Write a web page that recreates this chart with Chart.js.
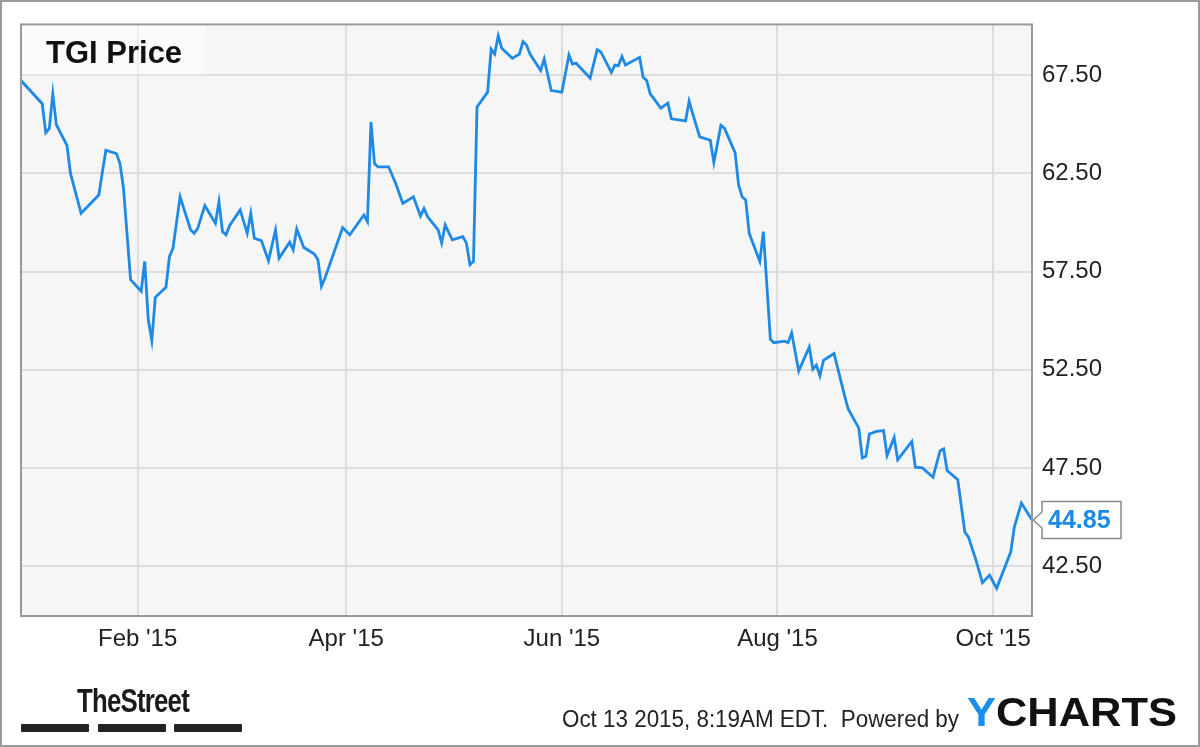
<!DOCTYPE html>
<html>
<head>
<meta charset="utf-8">
<script src="https://cdn.jsdelivr.net/npm/chart.js@4.4.1/dist/chart.umd.min.js"></script>
<style>
  html, body { margin: 0; padding: 0; background: #fff; }
  #wrap { position: relative; width: 1200px; height: 747px; overflow: hidden; background: #fff; }
  #c { position: absolute; left: 0; top: 0; }
  .ft { position: absolute; white-space: nowrap; line-height: 1; font-family: "Liberation Sans", Arial, Helvetica, sans-serif; transform-origin: 0 0; }
  .bar { position: absolute; top: 724px; height: 8px; width: 68px; background: #222; border-radius: 1px; }
  #frame { position: absolute; left: 0; top: 0; width: 1200px; height: 747px; box-sizing: border-box; border: 2px solid #9a9a9a; pointer-events: none; }
</style>
</head>
<body>
<div id="wrap">
  <canvas id="c" width="1200" height="747"></canvas>
  <div class="ft" id="street" style="left:77px; top:683px; font-size:34px; font-weight:bold; color:#1a1a1a; letter-spacing:-1px;">TheStreet</div>
  <div class="bar" style="left:21px"></div>
  <div class="bar" style="left:98px"></div>
  <div class="bar" style="left:174px"></div>
  <div class="ft" id="stamp" style="left:562px; top:708px; font-size:23px; color:#222;">Oct 13 2015, 8:19AM EDT.&nbsp; Powered by</div>
  <div class="ft" id="ych" style="left:967px; top:692px; font-size:40px; font-weight:bold; color:#111; letter-spacing:0px;"><span style="color:#1a8ee8">Y</span>CHARTS</div>
  <div id="frame"></div>
</div>
<script>
// ---- data ----
const dates = [
  "2014-12-30","2015-01-05","2015-01-06","2015-01-07","2015-01-08","2015-01-09","2015-01-12","2015-01-13","2015-01-16","2015-01-21",
  "2015-01-23","2015-01-26","2015-01-27","2015-01-28","2015-01-30","2015-02-02","2015-02-03","2015-02-04","2015-02-05","2015-02-06",
  "2015-02-09","2015-02-10","2015-02-11","2015-02-13","2015-02-16","2015-02-17","2015-02-18","2015-02-20","2015-02-23","2015-02-24",
  "2015-02-25","2015-02-26","2015-02-27","2015-03-02","2015-03-04","2015-03-05","2015-03-06","2015-03-08","2015-03-10","2015-03-12",
  "2015-03-13","2015-03-16","2015-03-17","2015-03-18","2015-03-20","2015-03-23","2015-03-24","2015-03-25","2015-03-26","2015-03-31",
  "2015-04-02","2015-04-06","2015-04-07","2015-04-08","2015-04-09","2015-04-10","2015-04-13","2015-04-15","2015-04-17","2015-04-20",
  "2015-04-22","2015-04-23","2015-04-24","2015-04-27","2015-04-28","2015-04-29","2015-05-01","2015-05-04","2015-05-05","2015-05-06",
  "2015-05-07","2015-05-08","2015-05-11","2015-05-12","2015-05-13","2015-05-14","2015-05-15","2015-05-18","2015-05-20","2015-05-21",
  "2015-05-22","2015-05-23","2015-05-26","2015-05-27","2015-05-29","2015-06-01","2015-06-03","2015-06-04","2015-06-05","2015-06-09",
  "2015-06-11","2015-06-12","2015-06-15","2015-06-16","2015-06-17","2015-06-18","2015-06-19","2015-06-23","2015-06-24","2015-06-25",
  "2015-06-26","2015-06-29","2015-07-01","2015-07-02","2015-07-06","2015-07-07","2015-07-08","2015-07-10","2015-07-13","2015-07-14",
  "2015-07-16","2015-07-17","2015-07-20","2015-07-21","2015-07-22","2015-07-23","2015-07-24","2015-07-27","2015-07-28","2015-07-30",
  "2015-07-31","2015-08-03","2015-08-04","2015-08-05","2015-08-07","2015-08-10","2015-08-11","2015-08-12","2015-08-13","2015-08-14",
  "2015-08-17","2015-08-18","2015-08-20","2015-08-21","2015-08-24","2015-08-25","2015-08-26","2015-08-27","2015-08-29","2015-08-31",
  "2015-09-01","2015-09-03","2015-09-04","2015-09-08","2015-09-09","2015-09-11","2015-09-14","2015-09-16","2015-09-17","2015-09-18",
  "2015-09-21","2015-09-23","2015-09-24","2015-09-26","2015-09-28","2015-09-30","2015-10-02","2015-10-06","2015-10-07","2015-10-09",
  "2015-10-12"
];
const prices = [
  67.23,66.05,64.57,64.78,66.55,64.98,63.93,62.50,60.47,61.40,
  63.68,63.51,63.00,61.73,57.09,56.50,58.02,55.06,54.00,56.19,
  56.70,58.27,58.69,61.31,59.62,59.45,59.71,60.86,59.96,61.06,
  59.54,59.37,59.84,60.64,59.45,60.47,59.20,59.08,58.05,59.62,
  58.18,59.00,58.61,59.67,58.73,58.39,58.10,56.75,57.17,59.74,
  59.37,60.38,60.05,65.12,63.00,62.83,62.83,61.99,60.97,61.31,
  60.33,60.72,60.30,59.62,58.95,59.88,59.12,59.28,58.95,57.85,
  58.02,65.88,66.64,68.83,68.58,69.51,68.87,68.36,68.58,69.21,
  69.04,68.58,67.74,68.33,66.72,66.64,68.53,68.07,68.12,67.35,
  68.80,68.70,67.65,68.02,67.99,68.45,68.02,68.41,67.40,67.23,
  66.55,65.83,66.08,65.28,65.17,66.18,65.54,64.36,64.19,63.05,
  64.95,64.81,63.56,61.91,61.31,61.15,59.45,58.02,59.54,54.05,
  53.88,53.96,53.88,54.38,52.44,53.66,52.53,52.74,52.19,52.98,
  53.33,52.61,51.17,50.50,49.53,48.01,48.09,49.23,49.36,49.40,
  48.13,49.06,47.91,48.85,47.54,47.50,47.03,48.38,48.47,47.37,
  46.90,44.24,43.99,42.89,41.65,42.04,41.37,43.23,44.49,45.71,
  44.85
];
const tickDates = ["2015-02-01","2015-04-01","2015-06-01","2015-08-01","2015-10-01"];
const tickLabels = ["Feb '15","Apr '15","Jun '15","Aug '15","Oct '15"];
const yTicks = [42.5, 47.5, 52.5, 57.5, 62.5, 67.5];
const seriesTitle = "TGI Price";
const yMin = 39.96, yMax = 70.09;

// ---- helpers ----
const DAY = 86400000;
const base = Date.UTC(2015, 0, 1);
function dayNum(s) { const p = s.split("-").map(Number); return (Date.UTC(p[0], p[1]-1, p[2]) - base) / DAY; }
const points = dates.map((d, i) => ({ x: dayNum(d), y: prices[i] }));
const tickDays = tickDates.map(dayNum);
const FONT = '"Liberation Sans", Arial, Helvetica, sans-serif';
const LINE = '#1e8ae6';

const decor = {
  id: 'decor',
  beforeDraw(chart) {
    const { ctx, chartArea: a } = chart;
    ctx.save();
    ctx.fillStyle = '#f6f6f6';
    ctx.fillRect(a.left, a.top, a.right - a.left, a.bottom - a.top);
    ctx.restore();
  },
  afterDraw(chart) {
    const { ctx, chartArea: a } = chart;
    const ys = chart.scales.y;
    ctx.save();
    // title box
    ctx.fillStyle = 'rgba(255,255,255,0.55)';
    ctx.fillRect(a.left, a.top, 184, 50);
    ctx.fillStyle = '#111';
    ctx.font = 'bold 31px ' + FONT;
    ctx.textBaseline = 'alphabetic';
    ctx.textAlign = 'left';
    ctx.fillText(seriesTitle, a.left + 25, a.top + 39);
    // plot frame
    ctx.strokeStyle = '#999';
    ctx.lineWidth = 2;
    ctx.strokeRect(a.left, a.top, a.right - a.left, a.bottom - a.top);
    // last value flag
    const last = prices[prices.length - 1];
    const py = ys.getPixelForValue(last);
    const x0 = a.right + 1, bx = a.right + 10, bw = 79, bh = 37;
    ctx.beginPath();
    ctx.moveTo(x0, py);
    ctx.lineTo(bx, py - 8);
    ctx.lineTo(bx, py - bh / 2);
    ctx.lineTo(bx + bw, py - bh / 2);
    ctx.lineTo(bx + bw, py + bh / 2);
    ctx.lineTo(bx, py + bh / 2);
    ctx.lineTo(bx, py + 8);
    ctx.closePath();
    ctx.fillStyle = '#fff';
    ctx.fill();
    ctx.strokeStyle = '#8a8a8a';
    ctx.lineWidth = 1.5;
    ctx.stroke();
    ctx.fillStyle = LINE;
    ctx.font = 'bold 25px ' + FONT;
    ctx.textBaseline = 'middle';
    ctx.fillText(last.toFixed(2), bx + 6, py + 1);
    ctx.restore();
  }
};

new Chart(document.getElementById('c'), {
  type: 'line',
  data: {
    datasets: [{
      data: points,
      borderColor: LINE,
      borderWidth: 2.8,
      pointRadius: 0,
      tension: 0,
      fill: false
    }]
  },
  options: {
    responsive: false,
    animation: false,
    events: [],
    layout: { padding: { left: 21, top: 22, right: 0, bottom: 0 } },
    plugins: { legend: { display: false }, tooltip: { enabled: false }, title: { display: false } },
    scales: {
      x: {
        type: 'linear',
        position: 'bottom',
        min: points[0].x,
        max: points[points.length - 1].x,
        grid: { color: '#dddddd', lineWidth: 2, drawTicks: false },
        border: { display: false },
        afterBuildTicks: s => { s.ticks = tickDays.map(v => ({ value: v })); },
        afterFit: s => { s.height = 131; },
        ticks: {
          autoSkip: false, maxRotation: 0, padding: 9,
          color: '#222', font: { family: FONT, size: 24 },
          callback: v => { const i = tickDays.indexOf(v); return i >= 0 ? tickLabels[i] : ''; }
        }
      },
      y: {
        type: 'linear',
        position: 'right',
        min: yMin,
        max: yMax,
        grid: { color: '#dddddd', lineWidth: 2, drawTicks: false },
        border: { display: false },
        afterBuildTicks: s => { s.ticks = yTicks.map(v => ({ value: v })); },
        afterFit: s => { s.width = 168; },
        ticks: {
          padding: 10,
          color: '#222', font: { family: FONT, size: 24 },
          callback: v => Number(v).toFixed(2)
        }
      }
    }
  },
  plugins: [decor]
});

// fit footer texts to their measured widths in the reference
function fit(id, w) { const el = document.getElementById(id); const ow = el.getBoundingClientRect().width; if (ow > 0) el.style.transform = 'scaleX(' + (w / ow) + ')'; }
fit('street', 112);
fit('stamp', 397);
fit('ych', 210);
</script>
</body>
</html>
